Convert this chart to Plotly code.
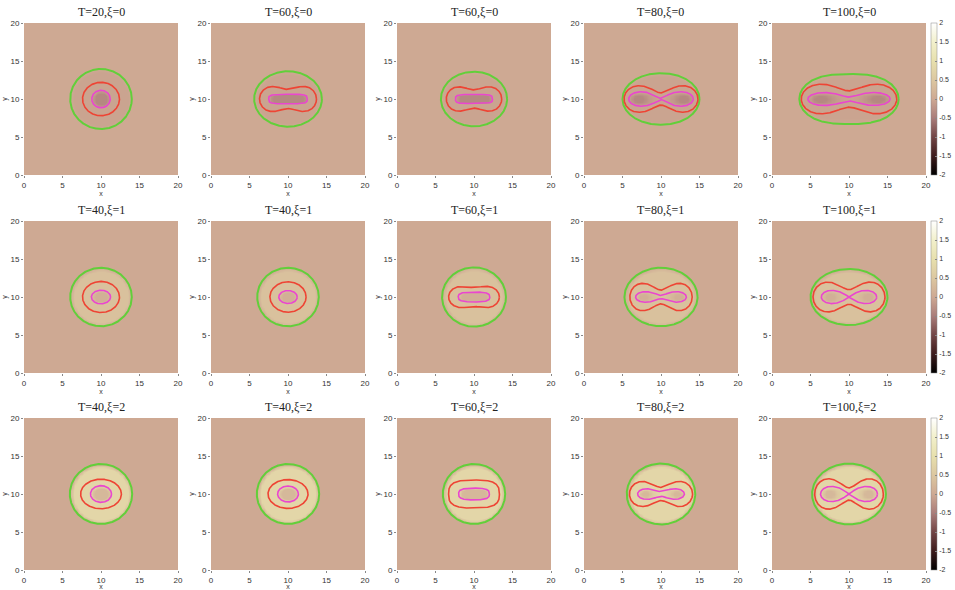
import numpy as np
import plotly.graph_objects as go

# ---------------- data ----------------
T_values = [20, 60, 60, 80, 100,
            40, 40, 60, 80, 100,
            40, 40, 60, 80, 100]
xi_values = [0, 0, 0, 0, 0,
             1, 1, 1, 1, 1,
             2, 2, 2, 2, 2]

# contour shapes (centre at 10,10): half-length L, waist half-height w,
# lobe half-height h (None = convex oval), oval flattening t, oval exponent n
green_L = [4.0, 4.4, 4.3, 5.0, 6.45, 4.0, 4.0, 4.15, 4.75, 5.0, 4.05, 4.05, 4.05, 4.45, 4.8]
green_w = [3.95, 3.65, 3.6, 3.4, 3.3, 3.85, 3.85, 3.9, 3.85, 3.7, 3.95, 3.95, 3.95, 4.0, 4.0]
green_h = [None] * 15
green_t = [0, 0, 0, 0.15, 0.42, 0, 0, 0, 0, 0, 0, 0, 0, 0, 0]
green_n = [2] * 15

red_L = [2.4, 3.7, 3.6, 4.8, 6.2, 2.4, 2.35, 3.3, 4.05, 4.67, 2.65, 2.6, 3.3, 4.1, 4.46]
red_w = [2.2, 1.25, 1.2, 0.8, 1.07, 2.05, 2.0, 1.25, 0.9, 0.96, 1.95, 1.9, 1.85, 0.86, 0.8]
red_h = [None, 1.65, 1.6, 1.75, 1.95, None, None, 1.4, 1.8, 1.96, None, None, None, 1.65, 2.0]
red_t = [0] * 15
red_n = [2, 2, 2, 2, 2, 2, 2, 2, 2, 2, 2, 2, 3, 2, 2]

mag_L = [1.2, 2.5, 2.4, 4.2, 5.35, 1.25, 1.2, 2.05, 3.3, 3.6, 1.37, 1.35, 2.0, 3.04, 3.7]
mag_w = [1.15, 0.63, 0.6, 0.05, 0.25, 0.9, 0.85, 0.65, 0.2, 0.0, 1.1, 1.05, 0.77, 0.3, 0.0]
mag_h = [None, None, None, 0.95, 0.85, None, None, None, 0.7, 0.87, None, None, None, 0.7, 1.0]
mag_t = [0] * 15
mag_n = [2, 4, 4, 2, 2, 2, 2, 3, 2, 2, 2, 2, 3, 2, 2]

# field level inside the outer (green) and inner (magenta) regions, per row
fill_outer = [-0.06, 0.4, 0.8]
fill_inner = [-0.3, -0.3, -0.55]

colorbar_ticks = [-2, -1.5, -1, -0.5, 0, 0.5, 1, 1.5, 2]
axis_ticks = [0, 5, 10, 15, 20]


# ---------------- helpers ----------------
def cassini(L, w, h, t):
    if h is not None:
        r = min(w / h, 1.0)
        t = (1 + np.sqrt(1 - r * r)) / 2
        b = L / np.sqrt(1 + t)
        c = b * np.sqrt(t)
        s = h / (b * b / (2 * c))
    else:
        b = L / np.sqrt(1 + t)
        c = b * np.sqrt(t)
        s = w / (b * np.sqrt(1 - t))
    return b, c, s


def is_super(h, t):
    return h is None and t == 0


def implicit(X, Y, L, w, h, t, n):
    if is_super(h, t):
        return np.abs((X - 10) / L) ** n + np.abs((Y - 10) / w) ** n
    b, c, s = cassini(L, w, h, t)
    xx = X - 10
    yy = (Y - 10) / s
    return np.sqrt(((xx - c) ** 2 + yy ** 2) * ((xx + c) ** 2 + yy ** 2)) / b ** 2


def curve(L, w, h, t, n, m=900):
    th = np.linspace(0, 2 * np.pi, m)
    if is_super(h, t):
        cc, ss = np.cos(th), np.sin(th)
        u = np.sign(cc) * np.abs(cc) ** (2.0 / n)
        v = np.sign(ss) * np.abs(ss) ** (2.0 / n)
        return 10 + L * u, 10 + w * v
    b, c, s = cassini(L, w, h, t)
    r2 = c ** 2 * np.cos(2 * th) + np.sqrt(np.maximum(b ** 4 - c ** 4 * np.sin(2 * th) ** 2, 0))
    r = np.sqrt(np.maximum(r2, 0))
    return 10 + r * np.cos(th), 10 + s * r * np.sin(th)


colorscale = [
    [0.0, "#000000"],
    [0.125, "#3e1c1c"],
    [0.25, "#724545"],
    [0.375, "#aa7d7a"],
    [0.5, "#cea993"],
    [0.625, "#dcc7a0"],
    [0.75, "#e7e0ad"],
    [0.875, "#f2f0cc"],
    [1.0, "#ffffff"],
]

W, H = 955, 590
lefts = [24, 211, 397, 584, 772]
pw = 154
tops = [23, 221, 418]
ph = 152

grid = np.linspace(0, 20, 121)
X, Y = np.meshgrid(grid, grid)

fig = go.Figure()
layout = dict(
    width=W, height=H, margin=dict(l=0, r=0, t=0, b=0, autoexpand=False),
    paper_bgcolor="white", plot_bgcolor="white", showlegend=False,
    font=dict(family="Liberation Sans, Arial, sans-serif", size=8, color="#333"),
)
annotations = []

for i in range(15):
    r, c = divmod(i, 5)
    ax = "" if i == 0 else str(i + 1)
    xa, ya = "x" + ax, "y" + ax
    ca = "coloraxis" if r == 0 else "coloraxis%d" % (r + 1)

    Fg = implicit(X, Y, green_L[i], green_w[i], green_h[i], green_t[i], green_n[i])
    Fm = implicit(X, Y, mag_L[i], mag_w[i], mag_h[i], mag_t[i], mag_n[i])
    Sg = np.clip((1 - Fg) / 0.25, 0, 1)
    Sm = np.clip((1 - Fm) / 0.6, 0, 1)
    Z = np.round(fill_outer[r] * Sg + fill_inner[r] * Sm, 3)

    fig.add_trace(go.Heatmap(x=grid, y=grid, z=Z, coloraxis=ca, zsmooth="best",
                             xaxis=xa, yaxis=ya, hoverinfo="skip"))
    for (Ls, Ws, Hs, Ts, Ns, col, lw) in [
        (green_L, green_w, green_h, green_t, green_n, "#62cf3a", 2.0),
        (red_L, red_w, red_h, red_t, red_n, "#ee4434", 1.6),
        (mag_L, mag_w, mag_h, mag_t, mag_n, "#ea46cf", 1.6),
    ]:
        cx, cy = curve(Ls[i], Ws[i], Hs[i], Ts[i], Ns[i])
        fig.add_trace(go.Scatter(x=np.round(cx, 3), y=np.round(cy, 3), mode="lines",
                                 line=dict(color=col, width=lw),
                                 xaxis=xa, yaxis=ya, hoverinfo="skip"))

    x0 = lefts[c] / W
    x1 = (lefts[c] + pw) / W
    y1 = 1 - tops[r] / H
    y0 = 1 - (tops[r] + ph) / H
    common = dict(range=[0, 20], tickvals=axis_ticks, showgrid=False, zeroline=False,
                  ticks="outside", ticklen=2, tickcolor="#888", showline=False,
                  automargin=False, tickfont=dict(size=8, color="#333"))
    layout["xaxis" + ax] = dict(domain=[x0, x1], anchor=ya,
                                title=dict(text="x", font=dict(size=7), standoff=2), **common)
    layout["yaxis" + ax] = dict(domain=[y0, y1], anchor=xa,
                                title=dict(text="y", font=dict(size=7), standoff=2), **common)

    annotations.append(dict(
        text="T=%d,ξ=%d" % (T_values[i], xi_values[i]),
        x=(x0 + x1) / 2, y=1 - (tops[r] - 11) / H, xref="paper", yref="paper",
        showarrow=False, xanchor="center", yanchor="middle",
        font=dict(family="Liberation Serif, Times New Roman, serif", size=12, color="#222")))

for r in range(3):
    name = "coloraxis" if r == 0 else "coloraxis%d" % (r + 1)
    layout[name] = dict(
        colorscale=colorscale, cmin=-2, cmax=2,
        colorbar=dict(
            x=931 / W, xanchor="left", y=1 - (tops[r] + ph / 2) / H, yanchor="middle",
            len=ph / H, lenmode="fraction", thickness=6, thicknessmode="pixels",
            xpad=0, ypad=0, outlinewidth=0.5, outlinecolor="#888",
            tickvals=colorbar_ticks, ticktext=[("%g" % t) for t in colorbar_ticks],
            ticks="inside", ticklen=2, tickcolor="#888",
            tickfont=dict(size=7, color="#333")))

layout["annotations"] = annotations
fig.update_layout(**layout)
fig.write_html("out.html", config={"displayModeBar": False},
               post_script="document.body.style.margin='0';document.body.style.overflow='hidden';")
